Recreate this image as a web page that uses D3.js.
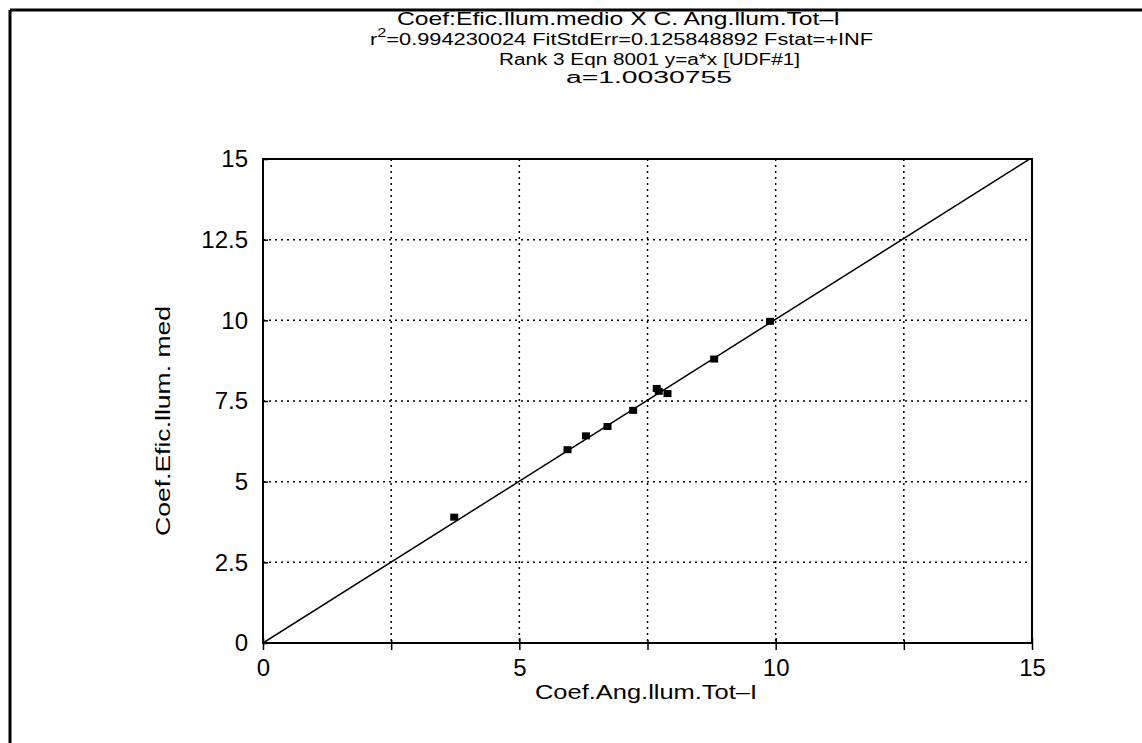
<!DOCTYPE html>
<html>
<head>
<meta charset="utf-8">
<script src="https://cdn.jsdelivr.net/npm/d3@7"></script>
<style>
  html, body { margin: 0; padding: 0; background: #fff; }
  svg { display: block; }
  text { font-family: "Liberation Sans", "DejaVu Sans", sans-serif; fill: #000; }
</style>
</head>
<body>
<svg id="chart" width="1142" height="743"></svg>
<script>
// ---- data ----
const xValues = [3.73, 5.94, 6.30, 6.72, 7.22, 7.68, 7.72, 7.89, 8.80, 9.89];
const yValues = [3.90, 5.99, 6.42, 6.71, 7.21, 7.89, 7.80, 7.73, 8.80, 9.97];
const fitA = 1.0030755;
const xTicks = [0, 5, 10, 15];
const xGrid = [2.5, 5, 7.5, 10, 12.5];
const yTicks = [0, 2.5, 5, 7.5, 10, 12.5, 15];
const yGrid = [2.5, 5, 7.5, 10, 12.5];
const titleLines = [
  "Coef:Efic.llum.medio X C. Ang.llum.Tot\u2013I",
  "=0.994230024   FitStdErr=0.125848892   Fstat=+INF",
  "Rank 3   Eqn 8001    y=a*x [UDF#1]",
  "a=1.0030755"
];
const xLabel = "Coef.Ang.llum.Tot\u2013I";
const yLabel = "Coef.Efic.llum. med";

// ---- layout ----
const svg = d3.select("#chart");
const L = 263, R = 1032, T = 159, B = 643;
const x = d3.scaleLinear().domain([0, 15]).range([L, R]);
const y = d3.scaleLinear().domain([0, 15]).range([B, T]);

// outer frame (only top and left visible)
svg.append("line").attr("x1", 10).attr("y1", 10).attr("x2", 1142).attr("y2", 10)
  .attr("stroke", "#000").attr("stroke-width", 3);
svg.append("line").attr("x1", 10).attr("y1", 10).attr("x2", 10).attr("y2", 743)
  .attr("stroke", "#000").attr("stroke-width", 3);

// titles
svg.append("text").attr("x", 397).attr("y", 25).attr("font-size", 19)
  .attr("textLength", 443).attr("lengthAdjust", "spacingAndGlyphs").text(titleLines[0]);
const t2 = svg.append("text").attr("x", 370).attr("y", 45).attr("font-size", 16);
t2.append("tspan").text("r");
t2.append("tspan").attr("dy", -8).attr("font-size", 12).text("2");
t2.append("tspan").attr("dy", 8).text(titleLines[1]);
t2.attr("textLength", 503).attr("lengthAdjust", "spacingAndGlyphs");
svg.append("text").attr("x", 499).attr("y", 65).attr("font-size", 16)
  .attr("textLength", 301).attr("lengthAdjust", "spacingAndGlyphs").text(titleLines[2]);
svg.append("text").attr("x", 566).attr("y", 83).attr("font-size", 16)
  .attr("textLength", 166).attr("lengthAdjust", "spacingAndGlyphs").text(titleLines[3]);

// gridlines
const grid = svg.append("g").attr("stroke", "#000").attr("stroke-width", 1.5)
  .attr("stroke-dasharray", "2,4");
grid.selectAll("line.v").data(xGrid).join("line").attr("class", "v")
  .attr("x1", d => x(d)).attr("x2", d => x(d)).attr("y1", T).attr("y2", B);
grid.selectAll("line.h").data(yGrid).join("line").attr("class", "h")
  .attr("y1", d => y(d)).attr("y2", d => y(d)).attr("x1", L).attr("x2", R);

// axes via d3
const xAxis = d3.axisBottom(x).tickValues(xTicks).tickSize(7).tickPadding(9)
  .tickFormat(d3.format("~g"));
const gx = svg.append("g").attr("transform", `translate(0,${B})`).call(xAxis);
gx.select(".domain").remove();
gx.selectAll(".tick line").attr("stroke", "#000").attr("stroke-width", 1.5).attr("y1", -5);
gx.selectAll(".tick text").attr("font-size", 24).attr("font-family", "Liberation Sans").attr("fill", "#000");

const gx2 = svg.append("g").attr("transform", `translate(0,${B})`)
  .call(d3.axisBottom(x).tickValues([2.5, 7.5, 12.5]).tickSize(7).tickFormat(""));
gx2.select(".domain").remove();
gx2.selectAll(".tick line").attr("stroke", "#000").attr("stroke-width", 1.5).attr("y1", -3);

const yAxis = d3.axisLeft(y).tickValues(yTicks).tickSize(6).tickPadding(9)
  .tickFormat(d3.format("~g"));
const gy = svg.append("g").attr("transform", `translate(${L},0)`).call(yAxis);
gy.select(".domain").remove();
gy.selectAll(".tick line").attr("stroke", "#000").attr("stroke-width", 1.5).attr("x2", 5);
gy.selectAll(".tick text").attr("font-size", 24).attr("font-family", "Liberation Sans").attr("fill", "#000");

// plot frame
svg.append("rect").attr("x", L).attr("y", T).attr("width", R - L).attr("height", B - T)
  .attr("fill", "none").attr("stroke", "#000").attr("stroke-width", 2);

// fit line y = a*x
svg.append("defs").append("clipPath").attr("id", "clip")
  .append("rect").attr("x", L).attr("y", T).attr("width", R - L).attr("height", B - T);
const fitX = [0, 15];
svg.append("path").attr("clip-path", "url(#clip)")
  .datum(fitX)
  .attr("d", d3.line().x(d => x(d)).y(d => y(fitA * d)))
  .attr("fill", "none").attr("stroke", "#000").attr("stroke-width", 1.5);

// points
const pts = xValues.map((v, i) => ({ x: v, y: yValues[i] }));
svg.selectAll("rect.pt").data(pts).join("rect").attr("class", "pt")
  .attr("x", d => x(d.x) - 4).attr("y", d => y(d.y) - 3.5)
  .attr("width", 8).attr("height", 7).attr("fill", "#000");

// axis labels
svg.append("text").attr("x", 535).attr("y", 699).attr("font-size", 21)
  .attr("textLength", 222).attr("lengthAdjust", "spacingAndGlyphs").text(xLabel);
svg.append("text").attr("transform", "translate(170,536) rotate(-90)").attr("font-size", 21)
  .attr("textLength", 230).attr("lengthAdjust", "spacingAndGlyphs").text(yLabel);
</script>
</body>
</html>
